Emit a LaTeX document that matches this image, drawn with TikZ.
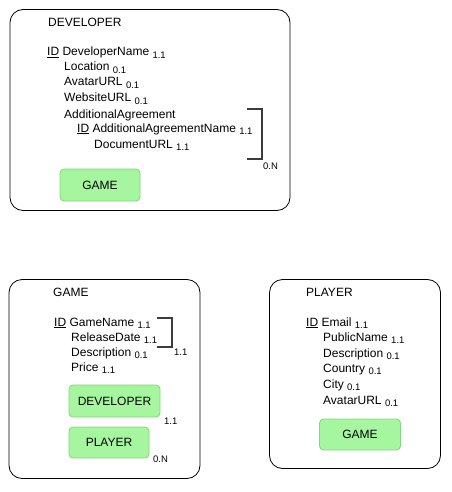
\documentclass[tikz,border=0pt]{standalone}
\usepackage{fontspec}
\setmainfont{Liberation Sans}
\usetikzlibrary{positioning}

\definecolor{linkfill}{RGB}{166,246,160}
\definecolor{linkdraw}{RGB}{130,214,124}
\definecolor{bracketgray}{RGB}{60,60,60}

\newcommand{\card}[1]{\raisebox{-2.5pt}{\fontsize{9.5}{10}\selectfont #1}}

\begin{document}
\begin{tikzpicture}[
    x=1pt, y=-1pt,
    entity/.style={draw=black, line width=0.8pt, rounded corners=13pt, inner sep=0pt},
    link/.style={draw=linkdraw, fill=linkfill, line width=0.8pt, rounded corners=4pt,
                 inner sep=0pt, font=\fontsize{12}{14}\selectfont},
    attr/.style={anchor=base west, inner sep=0pt, font=\fontsize{12}{14}\selectfont},
    mult/.style={anchor=base west, inner sep=0pt, font=\fontsize{9.5}{10}\selectfont},
    bracket/.style={draw=bracketgray, line width=1.3pt}
]
\useasboundingbox (0,0) rectangle (451,492);

% entity frames
\node[entity, minimum width=280pt, minimum height=201pt] (developer) at (150,110) {};
\node[entity, minimum width=191pt, minimum height=199pt] (game) at (104.5,379) {};
\node[entity, minimum width=171pt, minimum height=189pt] (player) at (355,374) {};

% DEVELOPER
\node[attr] (devtitle) at (48,27) {DEVELOPER};
\node[attr] (devname) at (47,56) {\underline{ID} DeveloperName \card{1.1}};
\node[attr] (devloc) at (64,71) {Location \card{0.1}};
\node[attr] (devavatar) at (64,86) {AvatarURL \card{0.1}};
\node[attr] (devweb) at (64,102) {WebsiteURL \card{0.1}};
\node[attr] (devagr) at (64,118) {AdditionalAgreement};
\node[attr] (agrname) at (77,132) {\underline{ID} AdditionalAgreementName \card{1.1}};
\node[attr] (agrdoc) at (94,148) {DocumentURL \card{1.1}};
\coordinate (agrtop) at (247,109);
\coordinate (agrbot) at (247,159);
\draw[bracket] (agrtop) -- ++(15,0) |- (agrbot);
\node[mult] (agrmult) at (263,169) {0.N};
\node[link, minimum width=80pt, minimum height=32pt] (devgame) at (100,185) {GAME};

% GAME
\node[attr] (gametitle) at (53,296) {GAME};
\node[attr] (gamename) at (54,326) {\underline{ID} GameName \card{1.1}};
\node[attr] (gamedate) at (71,341) {ReleaseDate \card{1.1}};
\node[attr] (gamedesc) at (71,356) {Description \card{0.1}};
\node[attr] (gameprice) at (71,371) {Price \card{1.1}};
\coordinate (keytop) at (157,318);
\coordinate (keybot) at (157,347);
\draw[bracket] (keytop) -- ++(15,0) |- (keybot);
\node[mult] (keymult) at (174,355) {1.1};
\node[link, minimum width=91pt, minimum height=32pt] (gamedev) at (114.5,401) {DEVELOPER};
\node[mult] (gamedevmult) at (164,424) {1.1};
\node[link, minimum width=80pt, minimum height=31pt] (gameplayer) at (109,442.5) {PLAYER};
\node[mult] (gameplayermult) at (153,462) {0.N};

% PLAYER
\node[attr] (playertitle) at (306,296) {PLAYER};
\node[attr] (playermail) at (306,326) {\underline{ID} Email \card{1.1}};
\node[attr] (playerpub) at (323,341) {PublicName \card{1.1}};
\node[attr] (playerdesc) at (323,357) {Description \card{0.1}};
\node[attr] (playercountry) at (323,372) {Country \card{0.1}};
\node[attr] (playercity) at (323,388) {City \card{0.1}};
\node[attr] (playeravatar) at (323,404) {AvatarURL \card{0.1}};
\node[link, minimum width=81pt, minimum height=31pt] (playergame) at (360,434.5) {GAME};

\end{tikzpicture}
\end{document}
